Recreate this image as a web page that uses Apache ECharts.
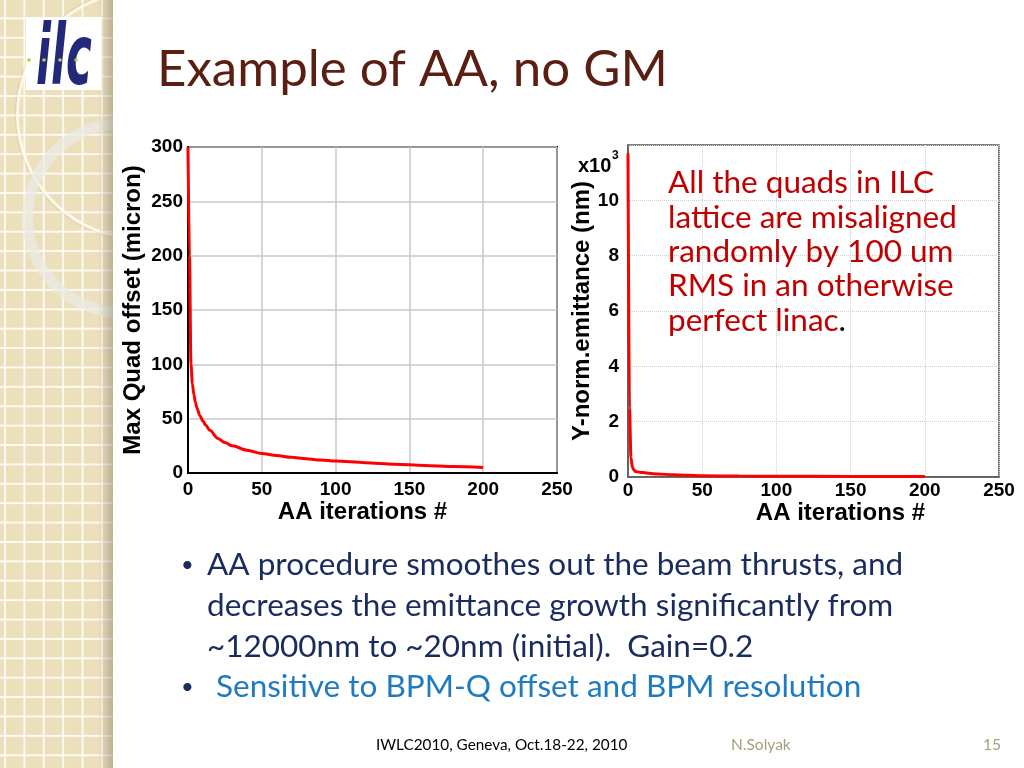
<!DOCTYPE html>
<html>
<head>
<meta charset="utf-8">
<script src="https://cdn.jsdelivr.net/npm/echarts@6/dist/echarts.min.js"></script>
<style>
html,body{margin:0;padding:0;background:#fff;}
#wrap{position:relative;width:1024px;height:768px;overflow:hidden;background:#fff;}
#strip{position:absolute;left:0;top:0;width:113px;height:768px;overflow:hidden;background-color:#ecdfbb;
 background-image:linear-gradient(90deg, rgba(255,255,255,0.85) 1.6px, transparent 1.6px),linear-gradient(0deg, rgba(255,255,255,0.85) 1.6px, transparent 1.6px);
 background-size:19.4px 19.4px;background-position:4px 0px;}
#shade{position:absolute;left:98px;top:0;width:15px;height:768px;background:linear-gradient(90deg, rgba(150,140,115,0) 0%, rgba(150,140,115,0.55) 100%);}
.ring{position:absolute;border-radius:50%;box-sizing:border-box;}
#chart{position:absolute;left:0;top:0;width:1024px;height:768px;}
</style>
</head>
<body>
<div id="wrap">
 <div id="strip">
  <div class="ring" style="left:16px;top:-10px;width:250px;height:250px;border:3px solid rgba(255,252,240,0.85);box-shadow:0 0 2px rgba(150,130,90,0.5);"></div>
  <div class="ring" style="left:22px;top:118px;width:200px;height:200px;border:11px solid rgba(235,235,230,0.75);"></div>
  <div id="shade"></div>
 </div>
 <div id="chart"></div>
</div>
<script>
// ---- data ----
const quadIter   = [0, 1, 2, 3, 4, 5, 6, 8, 10, 12, 15, 20, 25, 30, 40, 50, 60, 70, 80, 90, 100, 120, 140, 160, 180, 200];
const quadOffset = [300, 200, 100, 82, 72, 65, 60, 53, 48, 44, 39, 32, 28, 25, 21, 18, 16, 14.5, 13, 12, 11, 9.5, 8, 7, 6, 5];
const emitIter   = [0, 1, 2, 3, 4, 5, 8, 10, 15, 20, 30, 40, 50, 75, 100, 150, 200];
const emittance  = [11700, 2500, 700, 350, 250, 200, 170, 160, 130, 110, 80, 60, 45, 32, 26, 22, 20];
const iterTicks  = [0, 50, 100, 150, 200, 250];
const noteLines  = ['All the quads in ILC', 'lattice are misaligned', 'randomly by 100 um', 'RMS in an otherwise', 'perfect linac'];
const bulletLines = ['AA procedure smoothes out the beam thrusts, and', 'decreases the emittance growth significantly from', '~12000nm to ~20nm (initial).  Gain=0.2'];
const bullet2 = 'Sensitive to BPM-Q offset and BPM resolution';

const chart = echarts.init(document.getElementById('chart'), null, {renderer:'canvas'});
const axFam = 'Liberation Sans, Arial, sans-serif';
const axFont = {fontSize:19, fontWeight:'bold', color:'#000', fontFamily:axFam};
const nameFont = {fontSize:24, fontWeight:'bold', color:'#000', fontFamily:axFam};
const textFont = 'Lato, "Open Sans", sans-serif';

const graphics = [];
// logo
graphics.push({type:'rect', shape:{x:26, y:17, width:75, height:73}, style:{fill:'#fff'}, z:10});
graphics.push({type:'text', x:36, y:62, scaleX:0.52, scaleY:1, style:{text:'ilc', fontSize:84, fontWeight:'bold', fontStyle:'italic', fontFamily:'DejaVu Sans', fill:'#23297a', verticalAlign:'middle'}, z:11});
[29,44,60,76].forEach(function(cx){ graphics.push({type:'circle', shape:{cx:cx, cy:60, r:1.8}, style:{fill:'#b8d030'}, z:12}); });
// title
graphics.push({type:'text', x:157, y:70, style:{text:'Example of AA, no GM', fontSize:51, fontFamily:textFont, fill:'#5a1f12', verticalAlign:'middle'}, z:10});
// note in right plot
noteLines.forEach(function(t, i){
  if (i === noteLines.length - 1) {
    graphics.push({type:'text', x:668, y:183 + i*34.4, style:{text:'{a|' + t + '}{b|.}', verticalAlign:'middle', rich:{a:{fontSize:31.5, fontFamily:textFont, fill:'#c00000'}, b:{fontSize:31.5, fontFamily:textFont, fill:'#000'}}}, z:10});
  } else {
    graphics.push({type:'text', x:668, y:183 + i*34.4, style:{text:t, fontSize:31.5, fontFamily:textFont, fill:'#c00000', verticalAlign:'middle'}, z:10});
  }
});
// bullets
graphics.push({type:'text', x:181, y:565, style:{text:'\u2022', fontSize:22, fontFamily:textFont, fill:'#1a2b5e', verticalAlign:'middle'}, z:10});
bulletLines.forEach(function(t, i){
  graphics.push({type:'text', x:207, y:565 + i*41, style:{text:t, fontSize:31.5, fontFamily:textFont, fill:'#1a2b5e', verticalAlign:'middle'}, z:10});
});
graphics.push({type:'text', x:181, y:687, style:{text:'\u2022', fontSize:22, fontFamily:textFont, fill:'#1a2b5e', verticalAlign:'middle'}, z:10});
graphics.push({type:'text', x:216, y:687, style:{text:bullet2, fontSize:31.5, fontFamily:textFont, fill:'#1f7bc1', verticalAlign:'middle'}, z:10});
// footer
graphics.push({type:'text', x:376, y:745, style:{text:'IWLC2010, Geneva, Oct.18-22, 2010', fontSize:15.3, fontFamily:textFont, fill:'#000', verticalAlign:'middle'}, z:10});
graphics.push({type:'text', x:731, y:745, style:{text:'N.Solyak', fontSize:15.5, fontFamily:textFont, fill:'#a59d80', verticalAlign:'middle'}, z:10});
graphics.push({type:'text', x:983, y:745, style:{text:'15', fontSize:15.5, fontFamily:textFont, fill:'#a59d80', verticalAlign:'middle'}, z:10});
// x10^3 exponent
graphics.push({type:'text', x:578, y:166, style:{text:'x10', fontSize:20, fontWeight:'bold', fontFamily:axFam, fill:'#000', verticalAlign:'middle'}, z:10});
graphics.push({type:'text', x:612, y:156, style:{text:'3', fontSize:12, fontWeight:'bold', fontFamily:axFam, fill:'#000', verticalAlign:'middle'}, z:10});

const option = {
  animation:false,
  backgroundColor:'transparent',
  grid:[
    {left:188, top:147, width:369, height:326, show:true, borderColor:'#000', borderWidth:2, backgroundColor:'#fff'},
    {left:628, top:145, width:371, height:332, show:true, borderColor:'#555', borderWidth:1.5, backgroundColor:'#fff'}
  ],
  xAxis:[
    {type:'value', gridIndex:0, min:iterTicks[0], max:iterTicks[iterTicks.length-1], interval:50,
     axisLine:{show:true, onZero:false, lineStyle:{color:'#000', width:2}}, axisTick:{show:false},
     splitLine:{show:true, lineStyle:{color:'#c8c8c8', width:1.5}},
     axisLabel:Object.assign({margin:7}, axFont),
     name:'AA iterations #', nameLocation:'middle', nameGap:24,
     nameTextStyle:Object.assign({padding:[0,20,0,0]}, nameFont)},
    {type:'value', gridIndex:1, min:iterTicks[0], max:iterTicks[iterTicks.length-1], interval:50,
     axisLine:{show:true, onZero:false, lineStyle:{color:'#555', width:1.5}}, axisTick:{show:false},
     splitLine:{show:true, lineStyle:{color:'#d0d0d0', width:1, type:'dotted'}},
     axisLabel:Object.assign({margin:4}, axFont),
     name:'AA iterations #', nameLocation:'middle', nameGap:16,
     nameTextStyle:Object.assign({padding:[0,0,0,54]}, nameFont)}
  ],
  yAxis:[
    {type:'value', gridIndex:0, min:0, max:300, interval:50,
     axisLine:{show:true, lineStyle:{color:'#000', width:2}}, axisTick:{show:false},
     splitLine:{show:true, lineStyle:{color:'#c8c8c8', width:1.5}},
     axisLabel:Object.assign({margin:5}, axFont),
     name:'Max Quad offset (micron)', nameLocation:'middle', nameGap:43, nameTextStyle:nameFont},
    {type:'value', gridIndex:1, min:0, max:12000, interval:2000,
     axisLine:{show:true, lineStyle:{color:'#555', width:1.5}}, axisTick:{show:false},
     splitLine:{show:true, lineStyle:{color:'#d0d0d0', width:1, type:'dotted'}},
     axisLabel:Object.assign({margin:9, formatter:function(v){ return v === 12000 ? '' : String(v/1000); }}, axFont),
     name:'Y-norm.emittance (nm)', nameLocation:'middle', nameGap:34, nameTextStyle:nameFont}
  ],
  series:[
    {type:'line', xAxisIndex:0, yAxisIndex:0, showSymbol:false, smooth:0.3, smoothMonotone:'x',
     lineStyle:{color:'#ff0000', width:3}, data:quadIter.map(function(x,i){return [x, quadOffset[i]];})},
    {type:'line', xAxisIndex:1, yAxisIndex:1, showSymbol:false, smooth:0.3, smoothMonotone:'x',
     lineStyle:{color:'#ff0000', width:3}, data:emitIter.map(function(x,i){return [x, emittance[i]];})}
  ],
  graphic:graphics
};
chart.setOption(option);
</script>
</body>
</html>
